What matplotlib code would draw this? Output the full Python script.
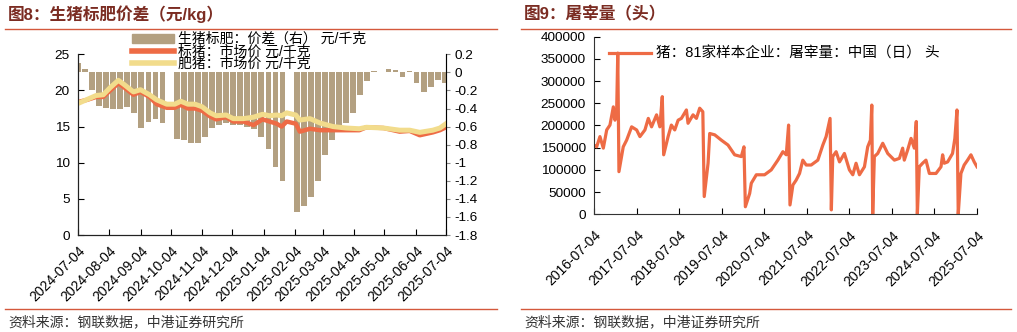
import matplotlib
matplotlib.use("Agg")
import matplotlib.pyplot as plt
from matplotlib.lines import Line2D
from matplotlib.patches import Patch
import pandas as pd

plt.rcParams["font.family"] = ["Liberation Sans", "Noto Sans CJK SC"]
plt.rcParams["axes.unicode_minus"] = False

# ---------------- 图8：生猪标肥价差 ----------------
spread_week_start = pd.date_range("2024-07-01", periods=53, freq="7D")
spread_values = [
    0.10, 0.04, -0.20, -0.37, -0.39, -0.41, -0.40, -0.38, -0.45, -0.62,
    -0.55, -0.52, -0.56, float("nan"), -0.74, -0.75, -0.78, -0.78, -0.72, -0.62,
    -0.58, -0.56, -0.58, -0.58, -0.60, -0.63, -0.72, -0.85, -1.05, -1.20,
    float("nan"), -1.55, -1.48, -1.38, -1.20, -0.92, -0.75, -0.63, -0.56, -0.45,
    -0.25, -0.10, 0.02, 0.00, 0.04, 0.03, -0.05, 0.02, -0.12, -0.22,
    -0.16, -0.08, -0.12,
]

price_dates = pd.to_datetime([
    "2024-07-04", "2024-07-13", "2024-07-22", "2024-07-29", "2024-08-05",
    "2024-08-13", "2024-08-18", "2024-08-28", "2024-09-04", "2024-09-13",
    "2024-09-20", "2024-09-30", "2024-10-08", "2024-10-14", "2024-10-21",
    "2024-10-28", "2024-11-04", "2024-11-12", "2024-11-18", "2024-11-28",
    "2024-12-05", "2024-12-15", "2024-12-25", "2025-01-03", "2025-01-10",
    "2025-01-17", "2025-01-22", "2025-01-27", "2025-02-05", "2025-02-09",
    "2025-02-19", "2025-03-01", "2025-03-14", "2025-03-27", "2025-04-09",
    "2025-04-16", "2025-05-03", "2025-05-19", "2025-05-29", "2025-06-08",
    "2025-06-21", "2025-06-28", "2025-07-04",
])
standard_pig_price = [
    18.4, 18.7, 19.1, 19.1, 20.0, 21.0, 20.5, 19.4, 19.8, 19.1,
    18.1, 17.6, 17.6, 18.0, 17.5, 17.5, 17.2, 16.4, 16.0, 16.3,
    15.7, 15.7, 15.2, 16.0, 15.7, 15.4, 15.0, 15.7, 15.4, 14.3,
    14.7, 14.5, 14.5, 14.5, 14.5, 14.9, 14.8, 14.3, 14.4, 13.8,
    14.2, 14.5, 14.9,
]
fat_pig_price = [
    18.2, 18.75, 19.3, 19.4, 20.4, 21.4, 20.9, 19.8, 20.1, 19.4,
    18.7, 18.1, 18.1, 18.5, 18.1, 18.1, 17.75, 16.9, 16.5, 16.6,
    16.1, 16.1, 16.3, 16.7, 16.5, 16.6, 16.5, 16.9, 16.6, 15.9,
    16.1, 15.5, 15.0, 14.8, 14.7, 14.9, 14.8, 14.5, 14.5, 14.2,
    14.5, 14.8, 15.4,
]
left_ticks = ["2024-07-04", "2024-08-04", "2024-09-04", "2024-10-04", "2024-11-04",
              "2024-12-04", "2025-01-04", "2025-02-04", "2025-03-04", "2025-04-04",
              "2025-05-04", "2025-06-04", "2025-07-04"]

# ---------------- 图9：屠宰量 ----------------
slaughter_dates = pd.to_datetime([
    "2016-07-04", "2016-07-27", "2016-08-24", "2016-09-22", "2016-10-21",
    "2016-11-18", "2016-12-17", "2016-12-31", "2017-01-14", "2017-01-24",
    "2017-02-03", "2017-03-12", "2017-04-10", "2017-05-23", "2017-07-05",
    "2017-08-02", "2017-09-14", "2017-10-13", "2017-11-10", "2017-12-23",
    "2018-01-20", "2018-02-10", "2018-02-22", "2018-04-01", "2018-04-29",
    "2018-05-28", "2018-06-26", "2018-07-24", "2018-09-05", "2018-09-19",
    "2018-11-01", "2018-11-30", "2018-12-28", "2019-01-24", "2019-02-05",
    "2019-03-10", "2019-03-24", "2019-05-06", "2019-07-02", "2019-08-28",
    "2019-10-24", "2019-12-20", "2020-01-12", "2020-01-24", "2020-03-01",
    "2020-03-15", "2020-04-27", "2020-07-07", "2020-09-02", "2020-10-29",
    "2020-12-11", "2021-01-09", "2021-01-29", "2021-02-10", "2021-03-07",
    "2021-04-04", "2021-05-03", "2021-05-31", "2021-06-29", "2021-08-11",
    "2021-10-07", "2021-11-19", "2021-12-17", "2022-01-20", "2022-01-31",
    "2022-02-12", "2022-03-13", "2022-04-11", "2022-05-23", "2022-07-05",
    "2022-08-03", "2022-08-31", "2022-09-29", "2022-11-11", "2022-12-09",
    "2023-01-01", "2023-01-13", "2023-01-21", "2023-02-04", "2023-03-05",
    "2023-04-17", "2023-05-30", "2023-07-26", "2023-09-07", "2023-10-05",
    "2023-10-19", "2023-11-17", "2023-12-16", "2024-01-13", "2024-01-30",
    "2024-02-08", "2024-02-25", "2024-03-24", "2024-04-22", "2024-05-21",
    "2024-07-17", "2024-08-29", "2024-09-12", "2024-09-26", "2024-10-25",
    "2024-12-06", "2024-12-26", "2025-01-13", "2025-01-24", "2025-02-16",
    "2025-03-16", "2025-04-14", "2025-05-13", "2025-06-10", "2025-07-04",
])
slaughter_heads = [
    156000, 152000, 175000, 149000, 190000, 201000, 242000, 212000, 227000, 363000,
    96000, 152000, 167000, 197000, 190000, 175000, 190000, 216000, 197000, 224000,
    197000, 265000, 134000, 175000, 201000, 190000, 212000, 216000, 235000, 205000,
    224000, 216000, 239000, 231000, 40000, 115000, 182000, 179000, 167000, 156000,
    134000, 130000, 152000, 17000, 47000, 70000, 89000, 89000, 100000, 122000,
    141000, 134000, 201000, 21000, 66000, 77000, 92000, 122000, 111000, 111000,
    122000, 156000, 175000, 216000, 10000, 130000, 141000, 118000, 137000, 100000,
    89000, 115000, 89000, 107000, 152000, 167000, 246000, 0, 130000, 137000,
    160000, 137000, 122000, 126000, 149000, 122000, 145000, 171000, 149000, 209000,
    0, 107000, 115000, 122000, 92000, 92000, 107000, 134000, 115000, 118000,
    137000, 171000, 235000, 0, 92000, 111000, 122000, 134000, 118000, 107000,
]
right_ticks = [f"{y}-07-04" for y in range(2016, 2026)]
right_yticks = list(range(0, 400001, 50000))

# ---------------- styling ----------------
TAN = "#B3A081"
ORANGE = "#EE6B45"
YELLOW = "#F2DC8C"
TITLE = "#7B2C22"
RULE = "#D4583C"
W, H = 1017, 332
TICK_FS = 9.7

fig = plt.figure(figsize=(W / 100, H / 100), dpi=100)


def fx(px):
    return px / W


def fy(py):
    return 1 - py / H


# titles, rules and source notes
for x0, x1, title in [(5, 497, "图8：生猪标肥价差（元/kg）"), (521, 1011, "图9：屠宰量（头）")]:
    fig.text(fx(x0 + 3), fy(14), title, fontsize=12, fontweight="bold",
             color=TITLE, va="center", ha="left")
    fig.add_artist(Line2D([fx(x0), fx(x1)], [fy(28.5)] * 2, color=RULE, lw=1.0,
                          transform=fig.transFigure))
    fig.add_artist(Line2D([fx(x0), fx(x1)], [fy(309)] * 2, color=RULE, lw=1.0,
                          transform=fig.transFigure))
    fig.text(fx(x0 + 3), fy(322), "资料来源：钢联数据，中港证券研究所", fontsize=10,
             color="#333333", va="center", ha="left", style="italic")

# ---- left chart ----
ax1 = fig.add_axes([fx(78), fy(235), fx(446) - fx(78), fy(54.3) - fy(235)])
ax2 = ax1.twinx()
ax2.bar(spread_week_start, spread_values, width=5.7, align="edge", color=TAN, linewidth=0)
ax1.plot(price_dates, standard_pig_price, color=ORANGE, lw=3.2, solid_joinstyle="round")
ax1.plot(price_dates, fat_pig_price, color=YELLOW, lw=3.6, solid_joinstyle="round")
ax1.set_zorder(ax2.get_zorder() + 1)
ax1.patch.set_visible(False)

ax1.set_xlim(pd.Timestamp(left_ticks[0]), pd.Timestamp(left_ticks[-1]))
ax1.set_ylim(0, 25)
ax1.set_yticks(range(0, 26, 5))
ax2.set_ylim(-1.8, 0.2)
r_ticks = [round(-1.8 + 0.2 * i, 1) for i in range(11)]
ax2.set_yticks(r_ticks)
ax2.set_yticklabels([f"{v:g}" if v != 0 else "0" for v in r_ticks])
ax1.set_xticks(pd.to_datetime(left_ticks))
ax1.set_xticklabels(left_ticks, rotation=45, ha="right", rotation_mode="anchor", fontsize=10)
ax1.tick_params(axis="x", direction="in", length=4, pad=6)
ax1.tick_params(axis="y", direction="in", length=4, labelsize=TICK_FS, pad=6)
ax2.tick_params(axis="y", direction="out", length=3, labelsize=TICK_FS, pad=3, color="#888888")
for ax in (ax1, ax2):
    ax.spines["top"].set_visible(False)
ax2.spines["right"].set_color("#888888")
for s in ("left", "bottom"):
    ax1.spines[s].set_color("#222222")

left_handles = [Patch(color=TAN), Line2D([], [], color=ORANGE, lw=4),
                Line2D([], [], color=YELLOW, lw=4)]
left_labels = ["生猪标肥：价差（右） 元/千克", "标猪：市场价 元/千克", "肥猪：市场价 元/千克"]
fig.legend(left_handles, left_labels, loc="upper left", bbox_to_anchor=(fx(132), fy(32)),
           frameon=False, fontsize=10, handlelength=3.0, handleheight=0.6,
           handletextpad=0.3, labelspacing=-0.12, borderpad=0, borderaxespad=0)

# ---- right chart ----
ax3 = fig.add_axes([fx(594), fy(214.3), fx(977) - fx(594), fy(36.7) - fy(214.3)])
ax3.plot(slaughter_dates, slaughter_heads, color=ORANGE, lw=2.3, solid_joinstyle="round")
ax3.set_xlim(pd.Timestamp(right_ticks[0]), pd.Timestamp(right_ticks[-1]))
ax3.set_ylim(0, 400000)
ax3.set_yticks(right_yticks)
ax3.set_yticklabels([str(v) for v in right_yticks])
ax3.set_xticks(pd.to_datetime(right_ticks))
ax3.set_xticklabels(right_ticks, rotation=45, ha="right", rotation_mode="anchor", fontsize=10)
ax3.tick_params(axis="x", direction="in", length=4, pad=10)
ax3.tick_params(axis="y", direction="in", length=4, labelsize=TICK_FS, pad=6)
ax3.spines["top"].set_visible(False)
ax3.spines["right"].set_visible(False)
for s in ("left", "bottom"):
    ax3.spines[s].set_color("#333333")
fig.legend([Line2D([], [], color=ORANGE, lw=2.3)], ["猪：81家样本企业：屠宰量：中国（日） 头"],
           loc="center left", bbox_to_anchor=(fx(609), fy(54)), frameon=False, fontsize=10.5,
           handlelength=2.9, handletextpad=0.3, borderpad=0, borderaxespad=0)

fig.savefig("out.png", dpi=100)
